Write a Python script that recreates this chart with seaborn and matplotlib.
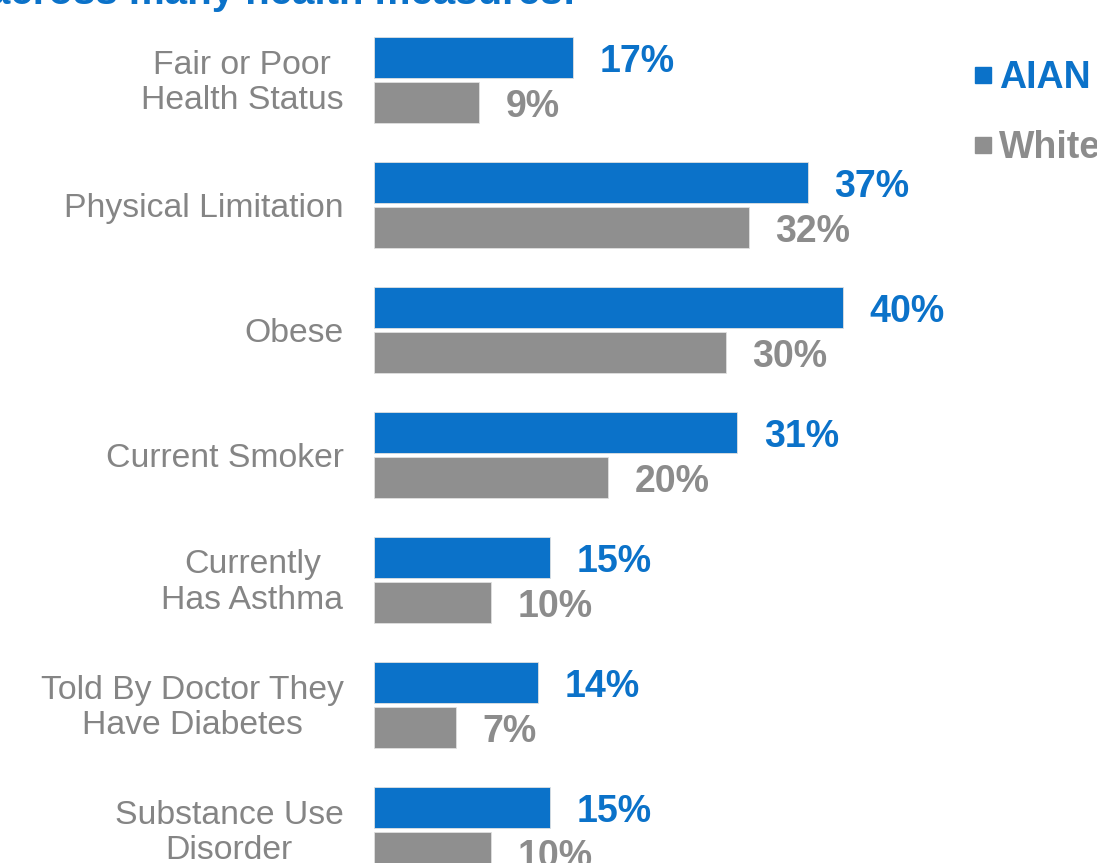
import matplotlib
matplotlib.use("Agg")
import matplotlib.pyplot as plt
from matplotlib.lines import Line2D
from matplotlib.transforms import ScaledTranslation
import seaborn as sns
import pandas as pd

categories = ["Fair or Poor\nHealth Status", "Physical Limitation", "Obese", "Current Smoker",
              "Currently\nHas Asthma", "Told By Doctor They\nHave Diabetes", "Substance Use\nDisorder"]
groups = ["AIAN", "White"]
aian = [17, 37, 40, 31, 15, 14, 15]
white = [9, 32, 30, 20, 10, 7, 10]
title_text = "across many health measures:"

BLUE = "#0b72c9"
GRAY_BAR = "#8f8f8f"
GRAY_TXT = "#8c8c8c"
CAT_TXT = "#858585"

sns.set_theme(style="white")
plt.rcParams["font.family"] = ["Liberation Sans", "DejaVu Sans"]

df = pd.DataFrame({
    "category": categories * 2,
    "value": aian + white,
    "group": [groups[0]] * len(categories) + [groups[1]] * len(categories),
})

W, H = 1097, 863
fig = plt.figure(figsize=(W / 100, H / 100), dpi=100)
ax = fig.add_axes([374 / W, 0, (W - 374) / W, 1])
sns.barplot(data=df, y="category", x="value", hue="group", orient="h",
            palette={groups[0]: BLUE, groups[1]: GRAY_BAR}, saturation=1,
            width=0.72, gap=0.11, edgecolor="#e0e0e0", linewidth=0.6,
            legend=False, ax=ax)

ax.set_xlim(0, (W - 374) / 11.72)
ax.set_ylim(6.264, -0.64)
for sp in ax.spines.values():
    sp.set_visible(False)
ax.set_xlabel("")
ax.set_ylabel("")
ax.set_xticks([])
ax.tick_params(axis="y", length=0, pad=22, labelsize=24.3, labelcolor=CAT_TXT)
for t in ax.get_yticklabels():
    t.set_multialignment("center")
    t.set_linespacing(1.17)
    if "\n" in t.get_text():
        t.set_transform(t.get_transform() + ScaledTranslation(0, 3 / 100, fig.dpi_scale_trans))

label_colors = [BLUE, GRAY_TXT]
for cont, col in zip(ax.containers, label_colors):
    for bar in cont:
        x_end = bar.get_x() + bar.get_width()
        yc = bar.get_y() + bar.get_height() / 2
        ax.annotate(f"{bar.get_width():g}%", xy=(x_end, yc), xytext=(19, -3.5),
                    textcoords="offset points", ha="left", va="center",
                    color=col, fontsize=27, fontweight="bold", annotation_clip=False)

# title (partially cut off at top, as in the reference)
fig.text(576 / W, 1 - 3.5 / H, title_text, ha="right", va="baseline",
         fontsize=29, fontweight="bold", color=BLUE)

handles = [Line2D([], [], marker="s", linestyle="", markersize=12, color=BLUE),
           Line2D([], [], marker="s", linestyle="", markersize=12, color=GRAY_BAR)]
leg = fig.legend(handles, groups, loc="upper left", bbox_to_anchor=(972 / W, 1 - 60 / H),
                 frameon=False, handlelength=0.6, handletextpad=0.12, labelspacing=0.9,
                 prop={"size": 27, "weight": "bold"}, labelcolor=[BLUE, GRAY_TXT],
                 borderaxespad=0, borderpad=0)

fig.savefig("out.png", dpi=100)
